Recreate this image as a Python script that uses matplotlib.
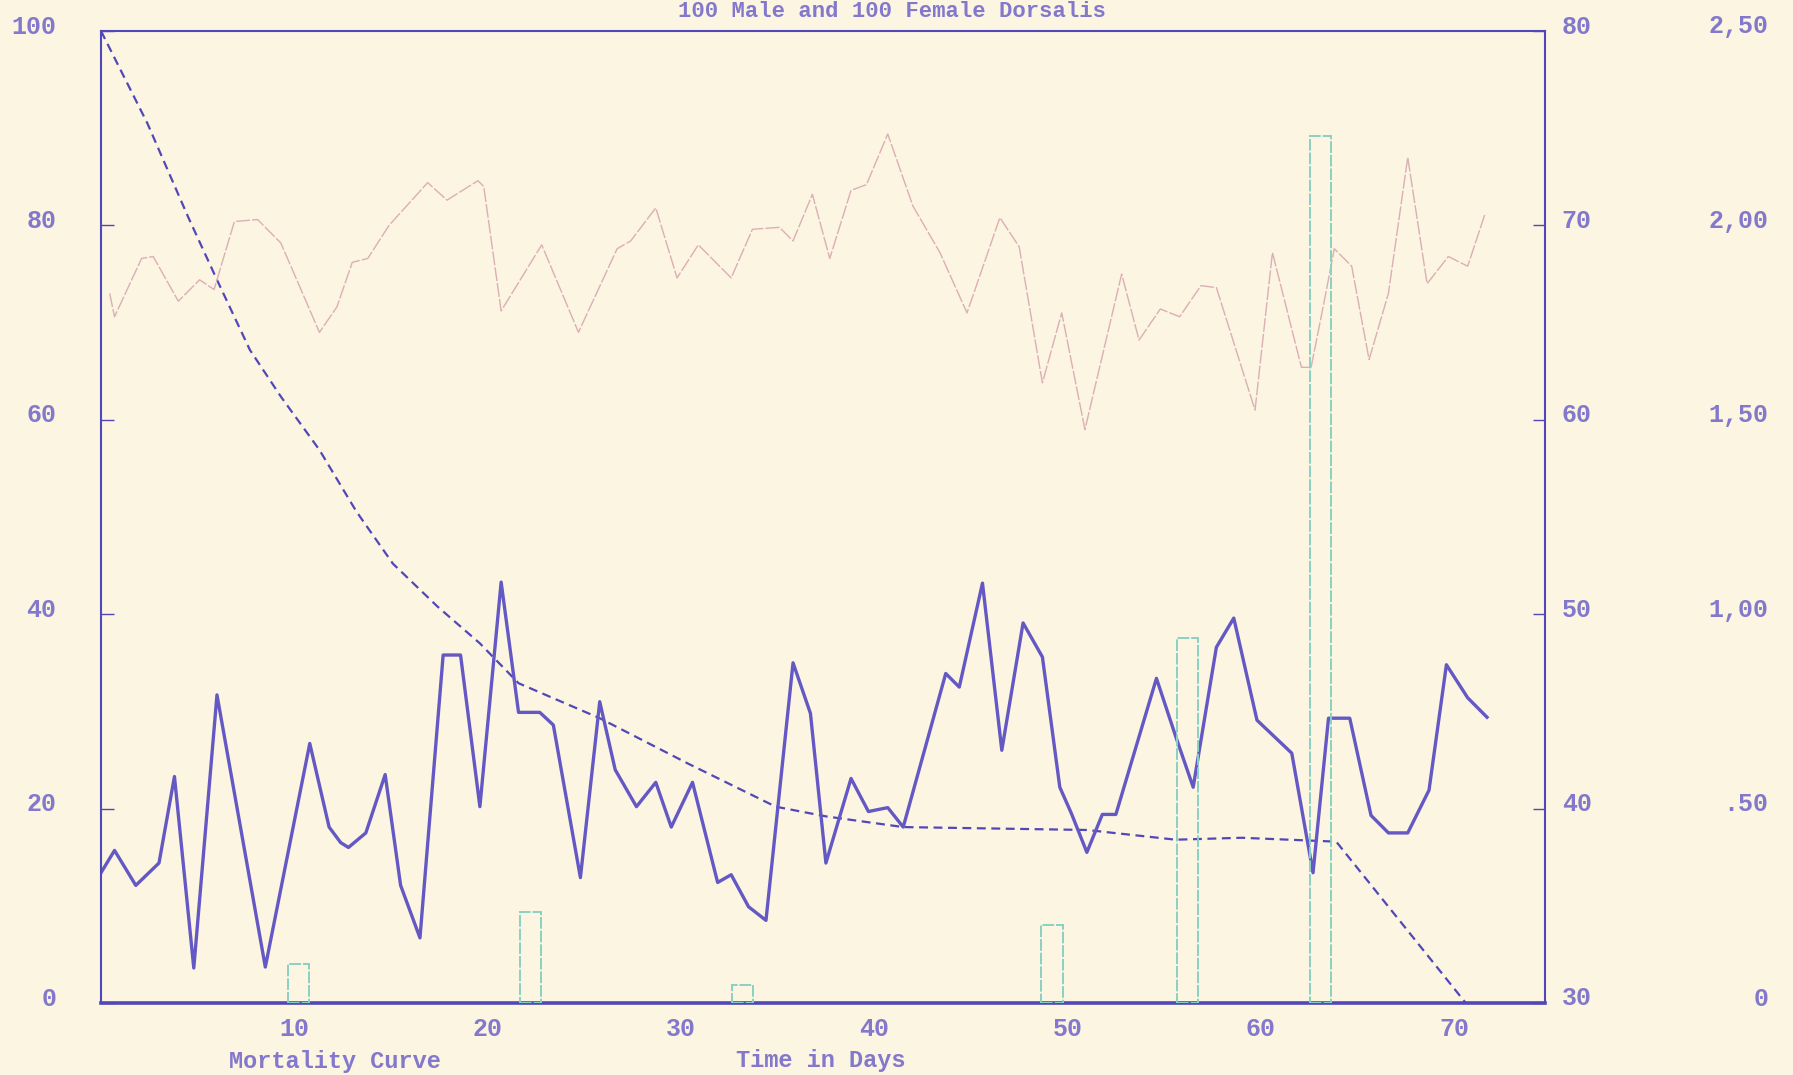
import matplotlib.pyplot as plt
import matplotlib.transforms as mtransforms

# daily counts (left axis, 0-100)
count_days = [0.0, 0.7, 1.8, 3.0, 3.8, 4.8, 6.0, 8.5, 10.8, 11.8, 12.4, 12.8, 13.7, 14.7,
              15.5, 16.5, 17.7, 18.6, 19.6, 20.7, 21.6, 22.7, 23.4, 24.8, 25.8, 26.6, 27.7,
              28.7, 29.5, 30.6, 31.9, 32.6, 33.5, 34.4, 35.8, 36.7, 37.5, 38.8, 39.7, 40.7,
              41.5, 43.7, 44.4, 45.6, 46.6, 47.7, 48.7, 49.6, 50.2, 51.0, 51.8, 52.5, 54.6,
              55.6, 56.5, 57.7, 58.6, 59.8, 61.6, 62.7, 63.5, 64.6, 65.7, 66.6, 67.6, 68.7,
              69.6, 70.7, 71.7]
count_vals = [13.4, 15.7, 12.1, 14.4, 23.3, 3.6, 31.7, 3.7, 26.7, 18.1, 16.5, 16.0, 17.5, 23.5,
              12.1, 6.7, 35.8, 35.8, 20.2, 43.3, 29.9, 29.9, 28.6, 12.9, 31.0, 24.0, 20.2,
              22.7, 18.1, 22.7, 12.4, 13.2, 9.9, 8.5, 35.0, 29.8, 14.4, 23.1, 19.7, 20.1,
              18.1, 33.9, 32.5, 43.2, 26.0, 39.1, 35.6, 22.2, 19.5, 15.5, 19.4, 19.4, 33.4,
              27.4, 22.2, 36.6, 39.6, 29.1, 25.7, 13.4, 29.3, 29.3, 19.3, 17.5, 17.5, 21.9,
              34.8, 31.4, 29.4]

# mortality curve (left axis, percent alive)
mort_days = [0.0, 2.4, 4.5, 6.0, 7.7, 9.3, 11.3, 13.2, 15.1, 17.4, 19.6, 21.6, 25.8, 30.4,
             34.9, 37.5, 41.5, 51.0, 55.6, 59.0, 63.9, 70.6]
mort_vals = [100, 90.5, 80.9, 74.4, 67.2, 62.4, 56.9, 50.6, 45.2, 40.8, 37.0, 32.9, 29.3, 24.6,
             20.2, 19.2, 18.1, 17.8, 16.8, 17.0, 16.6, 0.0]

# temperature (right axis, 30-80)
temp_days = [0.45, 0.7, 2.1, 2.7, 4.0, 5.1, 5.85, 6.9, 8.1, 9.3, 11.3, 12.2, 13.0, 13.8, 14.9,
             16.9, 17.9, 19.5, 19.8, 20.7, 22.8, 24.7, 26.7, 27.4, 28.7, 29.8, 30.9, 32.6,
             33.7, 35.1, 35.8, 36.8, 37.7, 38.8, 39.6, 40.7, 42.0, 43.4, 44.8, 46.5, 47.5,
             48.7, 49.7, 50.9, 52.8, 53.7, 54.8, 55.8, 56.9, 57.7, 59.7, 60.6, 62.1, 62.6,
             63.3, 63.8, 64.7, 65.6, 66.6, 67.6, 68.6, 69.7, 70.7, 71.6]
temp_vals = [66.5, 65.3, 68.3, 68.4, 66.1, 67.2, 66.7, 70.2, 70.3, 69.1, 64.5, 65.8, 68.1, 68.3,
             70.0, 72.2, 71.3, 72.3, 72.0, 65.6, 69.0, 64.5, 68.8, 69.2, 70.9, 67.3, 69.0,
             67.3, 69.8, 69.9, 69.2, 71.6, 68.3, 71.8, 72.1, 74.7, 71.0, 68.6, 65.5, 70.4,
             68.9, 61.9, 65.5, 59.5, 67.5, 64.1, 65.7, 65.3, 66.9, 66.8, 60.5, 68.6, 62.7,
             62.7, 66.2, 68.8, 67.9, 63.1, 66.5, 73.5, 67.0, 68.4, 67.9, 70.6]

# rainfall (far right axis, 0-2.50)
rain_days = [10.2, 22.2, 33.2, 49.2, 56.2, 63.1]
rain_vals = [0.10, 0.235, 0.046, 0.20, 0.94, 2.23]

left_ticks = [0, 20, 40, 60, 80, 100]
right_ticks = [30, 40, 50, 60, 70, 80]
rain_ticks = [0, 0.5, 1.0, 1.5, 2.0, 2.5]
rain_labels = ['0', '.50', '1,00', '1,50', '2,00', '2,50']
day_ticks = [10, 20, 30, 40, 50, 60, 70]

bg = '#fbf5e1'
ink = '#5247b8'
line_blue = '#6458c4'
pink = '#dcaeb5'
teal = '#88d0c4'
label_col = '#8378cc'
mono = 'Liberation Mono'

W, H = 1793, 1075
fig = plt.figure(figsize=(W / 100, H / 100), dpi=100, facecolor=bg)
ax = fig.add_axes([101 / W, 1 - 1003 / H, (1545 - 101) / W, (1003 - 31) / H])
ax.set_facecolor(bg)
ax2 = ax.twinx()
ax3 = ax.twinx()

ax.set_xlim(0, 74.7)
ax.set_ylim(0, 100)
ax2.set_ylim(30, 80)
ax3.set_ylim(0, 2.5)

ax3.bar(rain_days, rain_vals, width=1.1, fill=False, edgecolor=teal, linewidth=1.4,
        linestyle=(0, (6, 1)))
ax2.plot(temp_days, temp_vals, color=pink, lw=1.0, linestyle=(0, (10, 1.5)))
ax.plot(mort_days, mort_vals, color=ink, lw=1.6, linestyle=(0, (4, 2.5)))
ax.plot(count_days, count_vals, color=line_blue, lw=2.4)

for a in (ax2, ax3):
    for s in a.spines.values():
        s.set_visible(False)
for name, s in ax.spines.items():
    s.set_color(ink)
    s.set_linewidth(1.5)
ax.spines['bottom'].set_linewidth(2.6)

up = mtransforms.ScaledTranslation(0, 7 / 100, fig.dpi_scale_trans)

ax.set_yticks(left_ticks)
ax.set_yticklabels([str(t) for t in left_ticks])
ax.tick_params(axis='y', direction='in', length=9, width=1, color=ink, pad=32,
               labelsize=18, labelcolor=label_col)
ax.set_xticks(day_ticks)
ax.set_xticklabels([str(t) for t in day_ticks])
ax.tick_params(axis='x', length=0, pad=10, labelsize=18, labelcolor=label_col)

ax2.set_yticks(right_ticks)
ax2.set_yticklabels([str(t) for t in right_ticks])
ax2.tick_params(axis='y', direction='in', length=9, width=1, color=ink, pad=12,
                labelsize=18, labelcolor=label_col)

ax3.set_yticks(rain_ticks)
ax3.set_yticklabels(rain_labels)
ax3.tick_params(axis='y', length=0, pad=161, labelsize=18, labelcolor=label_col)

for lab in ax.get_yticklabels() + ax2.get_yticklabels() + ax3.get_yticklabels():
    lab.set_transform(lab.get_transform() + up)
    lab.set_fontfamily(mono)
    lab.set_fontweight('bold')
for lab in ax3.get_yticklabels():
    lab.set_horizontalalignment('right')
for lab in ax.get_xticklabels():
    lab.set_fontfamily(mono)
    lab.set_fontweight('bold')

fig.text(892 / W, 1 - 1 / H, '100 Male and 100 Female Dorsalis', ha='center', va='top',
         fontsize=16, color=label_col, family=mono, fontweight='bold')
fig.text(821 / W, 1 - 1061 / H, 'Time in Days', ha='center', va='center',
         fontsize=17, color=label_col, family=mono, fontweight='bold')
fig.text(229 / W, 1 - 1073 / H, 'Mortality Curve', ha='left', va='bottom',
         fontsize=17, color=label_col, family=mono, fontweight='bold')

fig.savefig('out.png', dpi=100, facecolor=bg)
